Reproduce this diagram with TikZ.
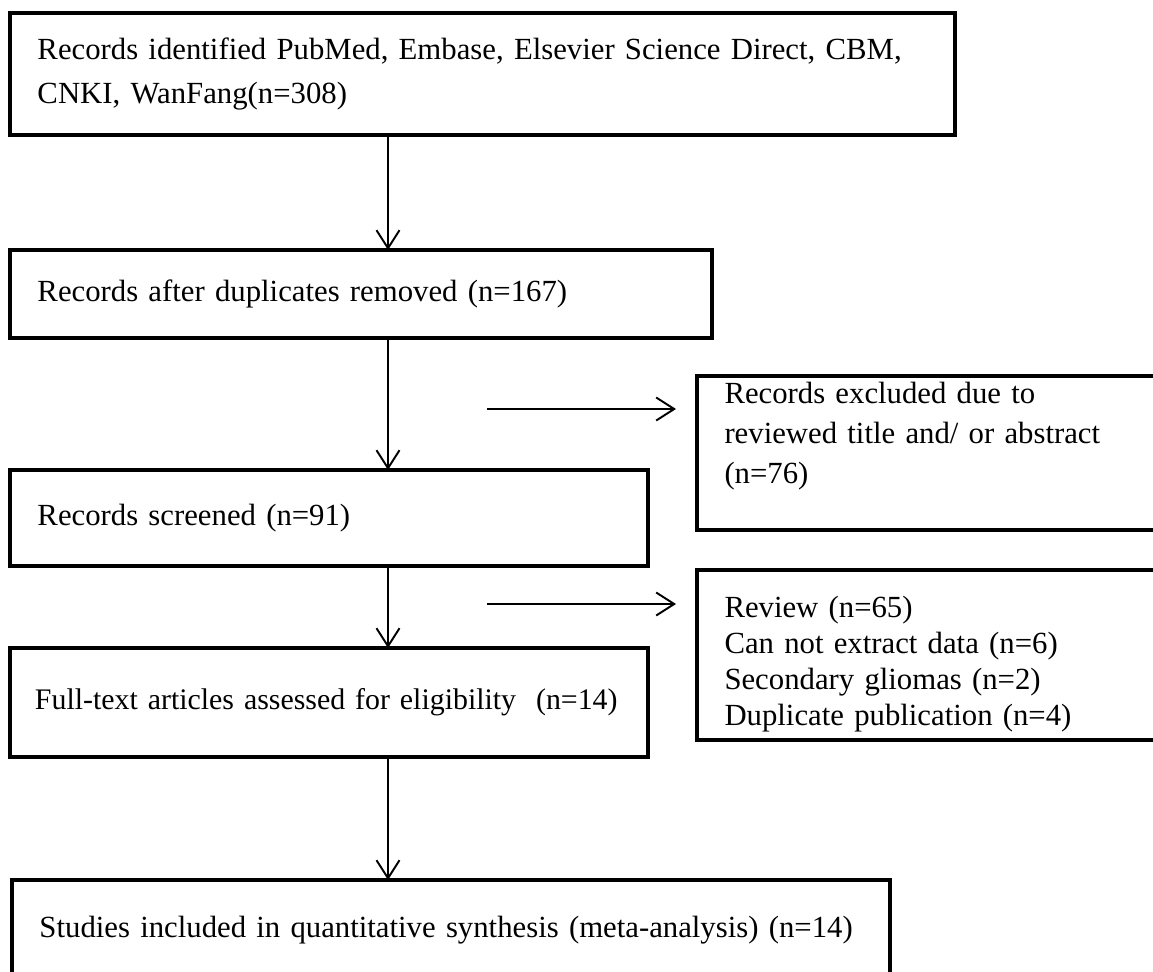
\documentclass[tikz,border=0pt]{standalone}
\usepackage{fontspec}
\setmainfont{Liberation Serif}
\usetikzlibrary{arrows.meta, positioning, calc}

\begin{document}
\begin{tikzpicture}[x=0.02cm, y=-0.02cm,
        box/.style={draw, line width=2.2pt, anchor=north west, outer sep=0pt, inner xsep=0.55cm, inner ysep=0pt, align=left, font=\fontsize{17.5}{22}\selectfont},
        arr/.style={line width=1.1pt, -{Straight Barb[length=0.36cm, width=0.46cm, line width=1.1pt]}}]
            \clip (0,0) rectangle (1153,971);
            \coordinate (spine) at (388,0);
            \node[box, minimum width=18.9cm, minimum height=2.44cm, text width=17.8cm, font=\fontsize{17.5}{25.5}\selectfont] (ident) at (10,13) {Records identified PubMed, Embase, Elsevier Science Direct, CBM,\\CNKI, WanFang(n=308)};
            \node[box, minimum width=14.04cm, minimum height=1.76cm, text width=12.94cm] (dedup) at (10,250) {Records after duplicates removed (n=167)};
            \node[box, minimum width=12.76cm, minimum height=1.92cm, text width=11.66cm] (screen) at (10,470) {Records screened (n=91)};
            \node[box, minimum width=9.66cm, minimum height=3.08cm, text width=8.56cm, font=\fontsize{17.5}{22.8}\selectfont, text depth=2.4cm] (excl) at (697,376) {Records excluded due to\\reviewed title and/ or abstract\\(n=76)};
            \node[box, minimum width=12.76cm, minimum height=2.18cm, inner xsep=0.5cm, text width=11.76cm, font=\fontsize{17}{22}\selectfont] (fulltext) at (10,648) {Full-text articles assessed for eligibility \ (n=14)};
            \node[box, minimum width=9.66cm, minimum height=3.4cm, text width=8.56cm, font=\fontsize{17.5}{20.5}\selectfont, text depth=1.94cm] (reasons) at (697,570) {Review (n=65)\\Can not extract data (n=6)\\Secondary gliomas (n=2)\\Duplicate publication (n=4)};
            \node[box, minimum width=17.56cm, minimum height=2cm, text width=16.46cm] (incl) at (12,880) {Studies included in quantitative synthesis (meta-analysis) (n=14)};
            \coordinate (ex1a) at (487,409);
            \coordinate (ex1b) at (676,409);
            \coordinate (ex2a) at (487,604);
            \coordinate (ex2b) at (676,604);
            \draw[arr] (ident.south -| spine) -- (dedup.north -| spine);
            \draw[arr] (dedup.south -| spine) -- (screen.north -| spine);
            \draw[arr] (screen.south -| spine) -- (fulltext.north -| spine);
            \draw[arr] (fulltext.south -| spine) -- (incl.north -| spine);
            \draw[arr] (ex1a) -- (ex1b);
            \draw[arr] (ex2a) -- (ex2b);
        \end{tikzpicture}
\end{document}
